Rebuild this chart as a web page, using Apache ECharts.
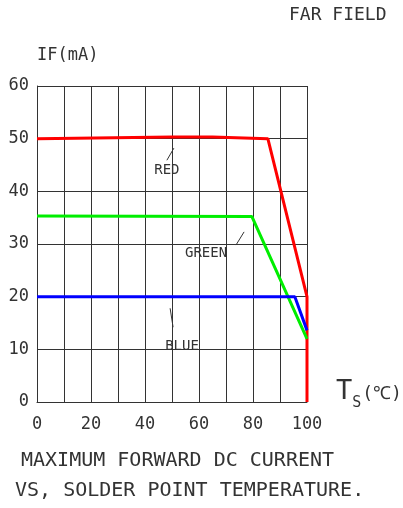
<!DOCTYPE html>
<html><head><meta charset="utf-8">
<script src="https://cdn.jsdelivr.net/npm/echarts@6/dist/echarts.min.js"></script>
<style>html,body{margin:0;padding:0;background:#fff}#c{width:403px;height:508px}</style>
</head><body><div id="c"></div>
<script>
var xTicks = [0, 20, 40, 60, 80, 100];
var yTicks = [0, 10, 20, 30, 40, 50, 60];
var redData = [[0, 50], [50, 50.3], [65, 50.3], [85.5, 50], [100, 20], [100, 0]];
var greenData = [[0, 35.3], [79.6, 35.2], [100, 12]];
var blueData = [[0, 20], [95.5, 20], [100, 13.6]];
var labels = [
  {name: 'RED', text: [48.1, 44.0], lead: [[48.1, 45.9], [50.7, 48.2]]},
  {name: 'GREEN', text: [62.6, 28.3], lead: [[73.7, 29.8], [76.7, 32.3]]},
  {name: 'BLUE', text: [53.7, 10.6], lead: [[49.3, 17.8], [50.4, 14.2]]}
];
var FONT = 'DejaVu Sans Mono';
var ink = '#333';

var chart = echarts.init(document.getElementById('c'), null, {renderer: 'canvas'});

function annotSeries() {
  return labels.map(function (l) {
    return {
      type: 'line', data: [], silent: true,
      markLine: {
        silent: true, symbol: 'none', animation: false,
        lineStyle: {color: ink, width: 1, type: 'solid'},
        label: {show: false},
        data: [[{coord: l.lead[0]}, {coord: l.lead[1]}]]
      },
      markPoint: {
        silent: true, symbol: 'circle', symbolSize: 0, animation: false,
        label: {show: true, formatter: l.name, color: ink, fontFamily: FONT, fontSize: 14, position: 'inside'},
        data: [{coord: l.text}]
      }
    };
  });
}

var lineStyle = function (c) {
  return {type: 'line', showSymbol: false, symbol: 'none', animation: false,
    lineStyle: {color: c, width: 3}, itemStyle: {color: c}};
};

var series = [
  Object.assign(lineStyle('#ff0000'), {name: 'RED', data: redData}),
  Object.assign(lineStyle('#00ee00'), {name: 'GREEN', data: greenData}),
  Object.assign(lineStyle('#0000ff'), {name: 'BLUE', data: blueData})
].concat(annotSeries());

chart.setOption({
  animation: false,
  textStyle: {fontFamily: FONT},
  grid: {left: 37, right: 96, top: 86, bottom: 106, containLabel: false, outerBoundsMode: 'none'},
  xAxis: {
    type: 'value', min: 0, max: 100, interval: 10,
    axisLine: {show: true, lineStyle: {color: ink, width: 1}},
    axisTick: {show: false},
    splitLine: {show: true, lineStyle: {color: ink, width: 1}},
    axisLabel: {
      color: ink, fontFamily: FONT, fontSize: 17, margin: 14,
      formatter: function (v) { return xTicks.indexOf(v) >= 0 ? String(v) : ''; }
    },
    name: '{t|T}{s|S}{p|(℃)}',
    nameLocation: 'end', nameGap: 29,
    nameTextStyle: {
      align: 'left', verticalAlign: 'bottom', padding: [0, 0, -3, 0],
      rich: {
        t: {fontFamily: FONT, fontSize: 27, color: ink, verticalAlign: 'bottom'},
        s: {fontFamily: FONT, fontSize: 15, color: ink, verticalAlign: 'bottom', padding: [0, 1, -6, 0]},
        p: {fontFamily: FONT, fontSize: 18, color: ink, verticalAlign: 'bottom', padding: [0, 0, 2, 0]}
      }
    }
  },
  yAxis: {
    type: 'value', min: 0, max: 60, interval: 10,
    axisLine: {show: true, lineStyle: {color: ink, width: 1}},
    axisTick: {show: false},
    splitLine: {show: true, lineStyle: {color: ink, width: 1}},
    axisLabel: {
      color: ink, fontFamily: FONT, fontSize: 17, margin: 8,
      formatter: function (v) { return yTicks.indexOf(v) >= 0 ? String(v) : ''; }
    },
    name: 'IF(mA)', nameLocation: 'end', nameGap: 22,
    nameTextStyle: {color: ink, fontFamily: FONT, fontSize: 17, align: 'left'}
  },
  graphic: [
    {type: 'text', left: 289, top: 6, style: {text: 'FAR FIELD', fontFamily: FONT, fontSize: 18, fill: ink}},
    {type: 'text', left: 21, top: 451, style: {text: 'MAXIMUM FORWARD DC CURRENT', fontFamily: FONT, fontSize: 20, fill: ink}},
    {type: 'text', left: 15, top: 481, style: {text: 'VS, SOLDER POINT TEMPERATURE.', fontFamily: FONT, fontSize: 20, fill: ink}}
  ],
  series: series
});
</script>
</body></html>
